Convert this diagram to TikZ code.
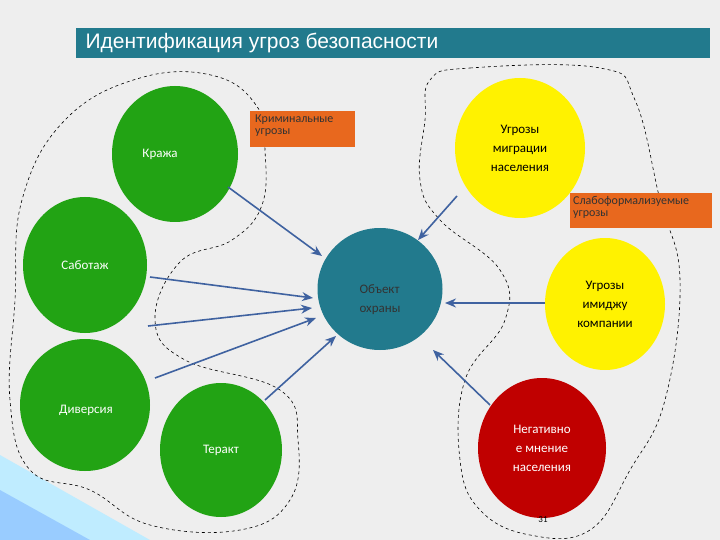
\documentclass[tikz,border=0pt]{standalone}
\usepackage{fontspec}
\setmainfont{Carlito}
\definecolor{teal1}{HTML}{227A8D}
\definecolor{grn}{HTML}{22A314}
\definecolor{yel}{HTML}{FFF200}
\definecolor{redc}{HTML}{C00000}
\definecolor{org}{HTML}{E8681E}
\definecolor{arr}{HTML}{3F62A0}
\definecolor{bg}{HTML}{EEEEEE}
\begin{document}
\begin{tikzpicture}[x=1pt,y=-1pt,
  lbl/.style={font=\fontsize{13}{19}\selectfont,align=center},
  conn/.style={draw=arr,line width=1.6pt,-{Stealth[length=11pt,width=9pt]}},
  blob/.style={dashed,black,line width=0.6pt}]
\usetikzlibrary{shapes.geometric,arrows.meta}
\fill[bg] (0,0) rectangle (720,540);
\useasboundingbox (0,0) rectangle (720,540);
\fill[blue!30!cyan!25] (0,455) -- (150,540) -- (0,540) -- cycle;
\fill[blue!50!cyan!40] (0,490) -- (90,540) -- (0,540) -- cycle;
\node[fill=teal1,minimum width=634pt,minimum height=30pt,anchor=north west,inner sep=0pt] (title) at (76,28) {};
\node[text=white,font=\fontsize{21}{24}\selectfont,anchor=west] (tt) at (82,43) {\setmainfont{Liberation Sans}Идентификация угроз безопасности};
\draw[blob] plot[smooth cycle,tension=0.7] coordinates {(140,78) (215,76) (258,108) (265,150) (262,205) (232,240) (180,262) (155,320) (185,360) (280,390) (298,440) (290,500) (240,530) (150,525) (90,490) (30,470) (10,400) (15,300) (22,200) (65,120)};
\draw[blob] plot[smooth cycle,tension=0.7] coordinates {(430,80) (470,68) (600,68) (635,100) (660,200) (680,280) (665,400) (630,470) (590,530) (530,535) (480,510) (460,460) (465,380) (505,320) (500,270) (440,220) (420,180) (425,120)};
\node[ellipse,fill=grn,minimum width=126pt,minimum height=136pt,text=white,lbl] (kr) at (175,154) {\hspace{-30pt}Кража};
\node[ellipse,fill=grn,minimum width=124pt,minimum height=136pt,text=white,lbl] (sab) at (85,265) {Саботаж};
\node[ellipse,fill=grn,minimum width=130pt,minimum height=132pt,text=white,lbl] (div) at (85,405) {};
\node[text=white,lbl] (divt) at (86,410) {Диверсия};
\node[ellipse,fill=grn,minimum width=122pt,minimum height=134pt,text=white,lbl] (ter) at (221,450) {Теракт};
\node[ellipse,fill=teal1,minimum width=125pt,minimum height=122pt,lbl] (obj) at (380,289) {};
\node[lbl,text=black!80,align=left] (objt) at (380,300) {Объект\\охраны};
\node[ellipse,fill=yel,minimum width=130pt,minimum height=140pt,lbl] (mig) at (520,148) {Угрозы\\миграции\\населения};
\node[ellipse,fill=yel,minimum width=120pt,minimum height=132pt,lbl] (img) at (605,304) {Угрозы\\имиджу\\компании};
\node[ellipse,fill=redc,minimum width=128pt,minimum height=140pt,lbl,text=white] (neg) at (542,448) {Негативно\\е мнение\\населения};
\node[fill=org,minimum width=105pt,minimum height=36pt,anchor=north west,inner sep=0pt] (crb) at (250,111) {};
\node[align=left,anchor=north west,text=black!80,font=\fontsize{12}{12}\selectfont,inner sep=1pt] (crt) at (254,114) {Криминальные\\угрозы};
\node[fill=org,minimum width=142pt,minimum height=35pt,anchor=north west,inner sep=0pt] (slb) at (570,193) {};
\node[align=left,anchor=north west,text=black!80,font=\fontsize{12}{12}\selectfont,inner sep=1pt] (slt) at (572,195) {Слабоформализуемые\\угрозы};
\node[font=\fontsize{9}{9}\selectfont] (num) at (543,520) {31};
\coordinate (s1) at (228,187); \coordinate (e1) at (322,256);
\draw[conn] (s1) -- (e1);
\coordinate (s2) at (150,277); \coordinate (e2) at (313,298);
\draw[conn] (s2) -- (e2);
\coordinate (s3) at (148,326); \coordinate (e3) at (312,308);
\draw[conn] (s3) -- (e3);
\coordinate (s4) at (155,378); \coordinate (e4) at (316,318);
\draw[conn] (s4) -- (e4);
\coordinate (s5) at (265,400); \coordinate (e5) at (336,336);
\draw[conn] (s5) -- (e5);
\coordinate (s6) at (457,196); \coordinate (e6) at (418,240);
\draw[conn] (s6) -- (e6);
\coordinate (s7) at (545,303); \coordinate (e7) at (445,303);
\draw[conn] (s7) -- (e7);
\coordinate (s8) at (490,405); \coordinate (e8) at (433,350);
\draw[conn] (s8) -- (e8);
\end{tikzpicture}
\end{document}
